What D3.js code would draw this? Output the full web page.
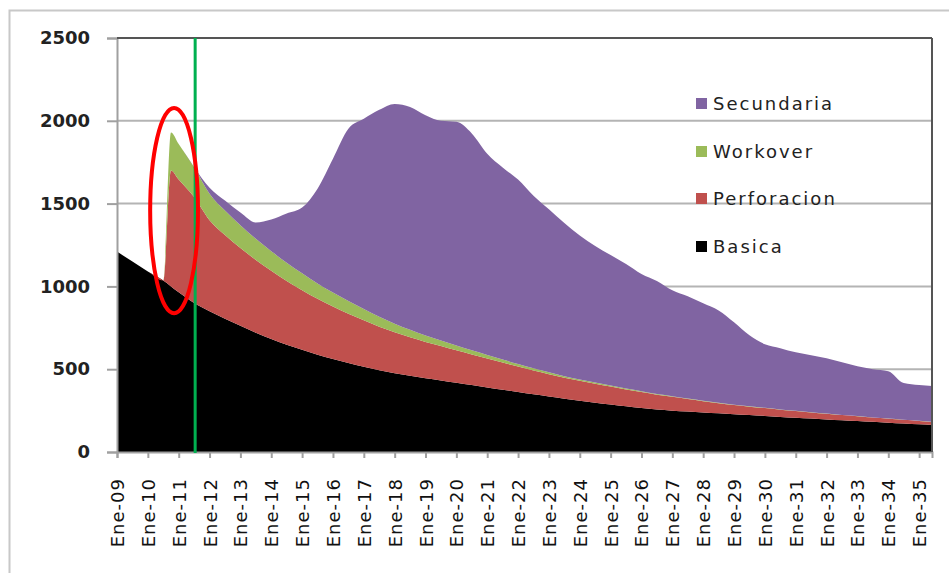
<!DOCTYPE html>
<html>
<head>
<meta charset="utf-8">
<script src="https://cdn.jsdelivr.net/npm/d3@7"></script>
<style>
  html, body { margin: 0; padding: 0; background: #fff; }
  svg { display: block; font-family: "DejaVu Sans", Verdana, sans-serif; }
</style>
</head>
<body>
<svg id="chart" width="949" height="573"></svg>
<script>
// ---- data (months since Ene-09) ----
const months = [0,6,12,18,21,24,30,36,42,48,54,60,66,72,78,84,90,96,102,108,114,120,126,132,138,144,150,156,162,168,174,180,186,192,198,204,210,216,222,228,234,240,246,252,258,264,270,276,282,288,294,300,306,312,317];
const basica = [1210,1150,1090,1035,1000,965,900,850,805,762,720,682,648,617,588,562,538,515,494,476,460,445,432,418,404,390,376,362,348,335,322,310,298,287,276,265,256,249,244,239,234,228,223,218,212,207,202,197,192,187,182,177,172,167,163];
const perforacion = [0,0,0,0,700,680,640,550,505,470,440,412,385,360,337,316,297,280,262,247,233,220,208,196,185,175,164,154,144,135,127,120,114,108,102,97,90,84,76,68,61,56,51,47,43,40,37,34,31,29,26,24,22,20,18];
const workover = [0,0,0,0,230,215,180,160,148,137,127,118,110,102,93,85,77,69,60,52,45,39,34,29,25,21,18,15,13,11,9,8,7,6,5,5,4,4,3,3,3,2,2,2,2,2,1,1,1,1,1,1,1,1,1];
const secundaria = [0,0,0,0,0,0,0,36,60,77,99,192,297,397,572,808,1040,1148,1250,1327,1346,1330,1326,1351,1310,1215,1160,1114,1043,985,925,870,825,788,752,708,682,639,617,588,557,497,429,384,370,353,344,334,318,301,291,286,221,216,216];

const seriesKeys = ["basica","perforacion","workover","secundaria"];
const legendLabels = ["Secundaria","Workover","Perforacion","Basica"];
const legendKeys = ["secundaria","workover","perforacion","basica"];
const colors = {secundaria:"#8064A2", workover:"#9BBB59", perforacion:"#C0504D", basica:"#000000"};

const tickMonths = d3.range(0, 313, 12);
const tickLabels = ["Ene-09","Ene-10","Ene-11","Ene-12","Ene-13","Ene-14","Ene-15","Ene-16","Ene-17","Ene-18","Ene-19","Ene-20","Ene-21","Ene-22","Ene-23","Ene-24","Ene-25","Ene-26","Ene-27","Ene-28","Ene-29","Ene-30","Ene-31","Ene-32","Ene-33","Ene-34","Ene-35"];
const yTicks = [0,500,1000,1500,2000,2500];

// annotations
const markerMonth = 30.4;             // green vertical line
const ellipseCenter = [22.2, 1458];   // month, value
const ellipseRadius = [9.3, 620];     // months, value units

// ---- layout ----
const svg = d3.select("#chart");
const L = 117, R = 932, T = 38, B = 452;
const x = d3.scaleLinear().domain([0, 317]).range([L, R]);
const y = d3.scaleLinear().domain([0, 2500]).range([B, T]);

// outer frame
svg.append("rect").attr("x", 9.5).attr("y", 10.5).attr("width", 960).attr("height", 600)
  .attr("fill", "none").attr("stroke", "#c8c8c8").attr("stroke-width", 2);

// gridlines
svg.append("g").selectAll("line").data(yTicks.filter(d => d > 0 && d < 2500)).join("line")
  .attr("x1", L).attr("x2", R).attr("y1", d => y(d)).attr("y2", d => y(d))
  .attr("stroke", "#b4b4b4").attr("stroke-width", 2);

// stacked areas
const table = months.map((m, i) => ({month: m, basica: basica[i], perforacion: perforacion[i], workover: workover[i], secundaria: secundaria[i]}));
const stacked = d3.stack().keys(seriesKeys)(table);
const area = d3.area().curve(d3.curveMonotoneX).x(d => x(d.data.month)).y0(d => y(d[0])).y1(d => y(d[1]));
svg.append("g").selectAll("path").data(stacked).join("path")
  .attr("d", area).attr("fill", d => colors[d.key]);

// axes
const yAxis = d3.axisLeft(y).tickValues(yTicks).tickSize(10).tickPadding(17).tickFormat(d3.format("d"));
const gy = svg.append("g").attr("transform", `translate(${L},0)`).call(yAxis);
gy.select(".domain").attr("stroke", "#a0a0a0").attr("stroke-width", 2);
gy.selectAll(".tick line").attr("stroke", "#a0a0a0").attr("stroke-width", 2);
gy.selectAll(".tick text").attr("font-size", 18).attr("font-weight", "bold").attr("fill", "#222")
  .attr("font-family", "DejaVu Sans");

const xAxis = d3.axisBottom(x).tickValues(tickMonths).tickSize(6).tickFormat((d, i) => tickLabels[i]);
const gx = svg.append("g").attr("transform", `translate(0,${B})`).call(xAxis);
gx.select(".domain").attr("stroke", "#a0a0a0").attr("stroke-width", 2);
gx.selectAll(".tick line").attr("stroke", "#a0a0a0").attr("stroke-width", 2);
gx.selectAll(".tick text").attr("font-size", 18).attr("letter-spacing", 1).attr("fill", "#111")
  .attr("font-family", "DejaVu Sans")
  .attr("text-anchor", "end").attr("transform", "rotate(-90)")
  .attr("x", -26).attr("y", 0).attr("dy", "0.36em");

// plot border top and right
svg.append("line").attr("x1", L).attr("x2", R).attr("y1", T).attr("y2", T).attr("stroke", "#555").attr("stroke-width", 2);
svg.append("line").attr("x1", R).attr("x2", R).attr("y1", T).attr("y2", B).attr("stroke", "#555").attr("stroke-width", 2);

// green marker line
svg.append("line").attr("x1", x(markerMonth)).attr("x2", x(markerMonth)).attr("y1", T).attr("y2", B + 1)
  .attr("stroke", "#00b050").attr("stroke-width", 3);

// red ellipse
svg.append("ellipse")
  .attr("cx", x(ellipseCenter[0])).attr("cy", y(ellipseCenter[1]))
  .attr("rx", x(ellipseCenter[0] + ellipseRadius[0]) - x(ellipseCenter[0]))
  .attr("ry", y(ellipseCenter[1] - ellipseRadius[1]) - y(ellipseCenter[1]))
  .attr("fill", "none").attr("stroke", "#ff0000").attr("stroke-width", 4);

// legend
const legendY = [104, 152, 199, 247];
const lg = svg.append("g");
legendKeys.forEach((k, i) => {
  lg.append("rect").attr("x", 696).attr("y", legendY[i] - 6).attr("width", 11).attr("height", 11).attr("fill", colors[k]);
  lg.append("text").attr("x", 713).attr("y", legendY[i]).attr("dy", "0.36em")
    .attr("font-size", 18).attr("letter-spacing", 2).attr("fill", "#222").text(legendLabels[i]);
});
</script>
</body>
</html>
